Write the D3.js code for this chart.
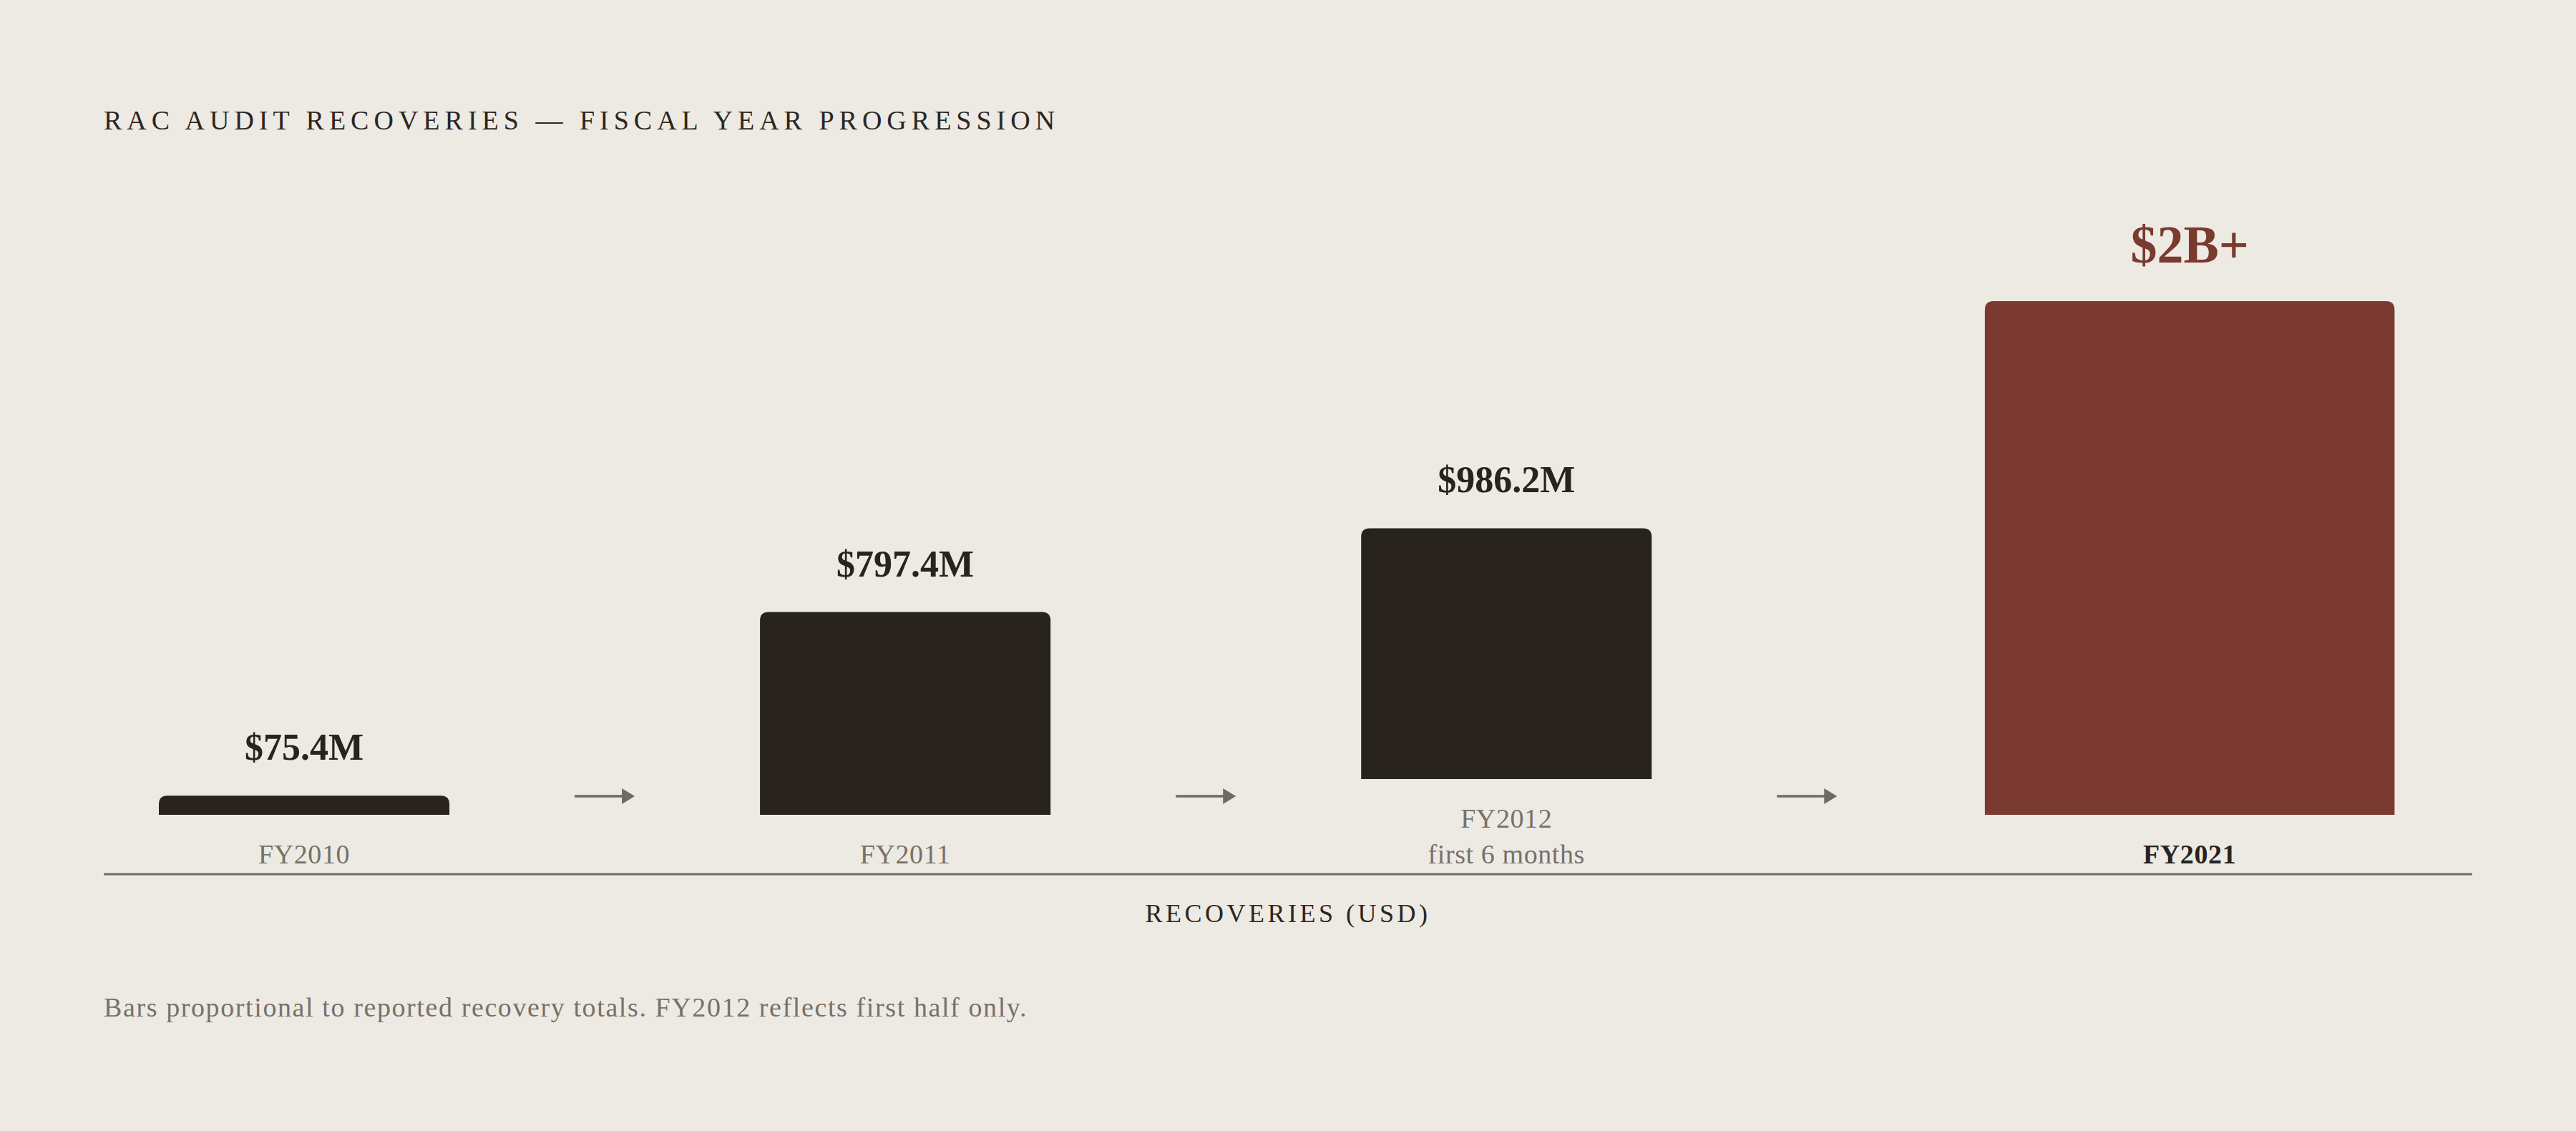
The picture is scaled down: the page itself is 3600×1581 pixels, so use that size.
<!DOCTYPE html>
<html>
<head>
<meta charset="utf-8">
<script src="https://cdn.jsdelivr.net/npm/d3@7"></script>
<style>
  html, body { margin: 0; padding: 0; background: #edeae3; }
  svg { display: block; }
</style>
</head>
<body>
<div id="chart"></div>
<script>
// values in $M
const categories = ["FY2010", "FY2011", "FY2012", "FY2021"];
const subLabels = ["", "", "first 6 months", ""];
const recoveries = [75.4, 797.4, 986.2, 2020];
const valueLabels = ["$75.4M", "$797.4M", "$986.2M", "$2B+"];
const highlighted = [false, false, false, true];

const titleText = "RAC AUDIT RECOVERIES \u2014 FISCAL YEAR PROGRESSION";
const axisTitle = "RECOVERIES (USD)";
const footnote = "Bars proportional to reported recovery totals. FY2012 reflects first half only.";

const width = 3600;
const height = 1581;
const left = 145;
const right = 3455;
const barBottom = 1139;
const lineStep = 50;
const axisY = 1222;
const colWeights = [1, 1, 1, 1.41];
const gapUnits = 0.5;
const barFrac = 0.725;
const radius = 12;

const ink = "#28231f";
const accent = "#7a3a2f";
const muted = "#77716a";
const font = "'Liberation Serif', 'DejaVu Serif', serif";

const data = categories.map((c, i) => ({
  cat: c,
  sub: subLabels[i],
  value: recoveries[i],
  label: valueLabels[i],
  hi: highlighted[i],
  weight: colWeights[i],
}));

// column start positions in layout units
let u = 0;
data.forEach((d, i) => {
  d.u0 = u;
  u += d.weight;
  d.u1 = u;
  if (i < data.length - 1) u += gapUnits;
});
const totalUnits = u;

const x = d3.scaleLinear().domain([0, totalUnits]).range([left, right]);
const h = d3.scaleLinear().domain([0, 2000]).range([0, 711]);

const svg = d3
  .select("#chart")
  .append("svg")
  .attr("width", width)
  .attr("height", height)
  .style("background-color", "#edeae3");

svg.append("text")
  .attr("x", left)
  .attr("y", 181)
  .attr("font-family", font)
  .attr("font-size", 38)
  .attr("letter-spacing", 7)
  .attr("fill", "#2b2622")
  .text(titleText);

function topRounded(x0, y0, w, hh, r) {
  r = Math.min(r, hh, w / 2);
  return `M${x0},${y0 + hh}V${y0 + r}Q${x0},${y0} ${x0 + r},${y0}` +
    `H${x0 + w - r}Q${x0 + w},${y0} ${x0 + w},${y0 + r}V${y0 + hh}Z`;
}

const col = svg.selectAll(".col")
  .data(data)
  .enter()
  .append("g")
  .attr("class", "col");

data.forEach((d) => {
  const lines = d.sub ? 2 : 1;
  d.cx = x((d.u0 + d.u1) / 2);
  d.w = (x(d.u1) - x(d.u0)) * barFrac;
  d.bottom = barBottom - (lines - 1) * lineStep;
  d.top = d.bottom - h(d.value);
});

col.append("path")
  .attr("d", (d) => topRounded(d.cx - d.w / 2, d.top, d.w, d.bottom - d.top, radius))
  .attr("fill", (d) => (d.hi ? accent : ink));

col.append("text")
  .attr("x", (d) => d.cx)
  .attr("y", (d) => d.top - (d.hi ? 54 : 50))
  .attr("text-anchor", "middle")
  .attr("font-family", font)
  .attr("font-weight", "bold")
  .attr("font-size", (d) => (d.hi ? 74 : 52))
  .attr("fill", (d) => (d.hi ? accent : ink))
  .text((d) => d.label);

col.append("text")
  .attr("x", (d) => d.cx)
  .attr("y", (d) => d.bottom + 68)
  .attr("text-anchor", "middle")
  .attr("font-family", font)
  .attr("font-size", 38)
  .attr("letter-spacing", 0.6)
  .attr("font-weight", (d) => (d.hi ? "bold" : "normal"))
  .attr("fill", (d) => (d.hi ? ink : muted))
  .text((d) => d.cat);

col.filter((d) => d.sub)
  .append("text")
  .attr("x", (d) => d.cx)
  .attr("y", (d) => d.bottom + 68 + lineStep)
  .attr("text-anchor", "middle")
  .attr("font-family", font)
  .attr("font-size", 38)
  .attr("letter-spacing", 0.6)
  .attr("fill", muted)
  .text((d) => d.sub);

// arrows between columns
const gaps = data.slice(0, -1).map((d, i) => x((d.u1 + data[i + 1].u0) / 2));
const arrowY = 1113;
const arrows = svg.selectAll(".arrow")
  .data(gaps)
  .enter()
  .append("g")
  .attr("class", "arrow")
  .attr("transform", (g) => `translate(${g},${arrowY})`);

arrows.append("line")
  .attr("x1", -42)
  .attr("x2", 26)
  .attr("stroke", "#6f6b64")
  .attr("stroke-width", 3.5);

arrows.append("path")
  .attr("d", "M24,-11L42,0L24,11Z")
  .attr("fill", "#6f6b64");

svg.append("line")
  .attr("x1", left)
  .attr("x2", right)
  .attr("y1", axisY)
  .attr("y2", axisY)
  .attr("stroke", "#6f6b64")
  .attr("stroke-width", 3);

svg.append("text")
  .attr("x", (left + right) / 2)
  .attr("y", 1289)
  .attr("text-anchor", "middle")
  .attr("font-family", font)
  .attr("font-size", 36)
  .attr("letter-spacing", 4.5)
  .attr("fill", "#2b2622")
  .text(axisTitle);

svg.append("text")
  .attr("x", left)
  .attr("y", 1421)
  .attr("font-family", font)
  .attr("font-size", 38)
  .attr("letter-spacing", 1.6)
  .attr("fill", muted)
  .text(footnote);
</script>
</body>
</html>
